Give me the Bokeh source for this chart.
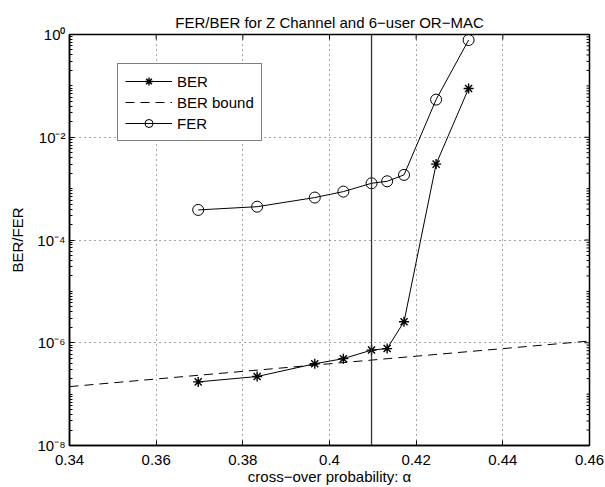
import math
from bokeh.plotting import figure
from bokeh.models import FixedTicker, Span, Legend, LegendItem
from bokeh.embed import file_html
from bokeh.resources import INLINE

# ---- data ----
alpha = [0.3697, 0.3833, 0.3966, 0.4032, 0.4097, 0.4133, 0.4172, 0.4246, 0.4321]
ber = [1.73e-7, 2.2e-7, 3.9e-7, 4.9e-7, 7.2e-7, 7.7e-7, 2.57e-6, 3.0e-3, 8.9e-2]
fer = [3.85e-4, 4.45e-4, 6.7e-4, 8.75e-4, 1.27e-3, 1.39e-3, 1.85e-3, 5.4e-2, 7.8e-1]
bound_alpha = [0.34, 0.40, 0.46]
ber_bound = [1.4e-7, 3.9e-7, 1.08e-6]
capacity_alpha = 0.4097

xticks = [0.34, 0.36, 0.38, 0.40, 0.42, 0.44, 0.46]
xtick_labels = ["0.34", "0.36", "0.38", "0.4", "0.42", "0.44", "0.46"]
yticks = [1e-8, 1e-6, 1e-4, 1e-2, 1.0]
ytick_labels = ["10\u207b\u2078", "10\u207b\u2076", "10\u207b\u2074", "10\u207b\u00b2", "10\u2070"]

title_text = "FER/BER for Z Channel and 6\u2212user OR\u2212MAC"
xlabel_text = "cross\u2212over probability: \u03b1"
ylabel_text = "BER/FER"

FONT = "Liberation Sans"
FS = "15px"

yminor = [k * 10.0 ** e for e in range(-8, 0) for k in range(1, 10) if not (k == 1 and e % 2 == 0)]

p = figure(frame_width=520, frame_height=411, x_range=(0.34, 0.46), y_range=(1e-8, 1.0),
           y_axis_type="log", output_backend="svg", toolbar_location=None,
           min_border_left=69, min_border_right=16, min_border_top=34, min_border_bottom=40,
           background_fill_color="white", border_fill_color="white")

p.outline_line_color = "black"
p.outline_line_width = 1.5

# title
p.title.text = title_text
p.title.align = "center"
p.title.text_font = FONT
p.title.text_font_size = FS
p.title.text_font_style = "normal"
p.title.text_color = "black"
p.title.standoff = 7

# grids
p.xgrid.ticker = FixedTicker(ticks=xticks)
p.ygrid.ticker = FixedTicker(ticks=yticks)
for g in (p.xgrid, p.ygrid):
    g.grid_line_color = "black"
    g.grid_line_alpha = 0.7
    g.grid_line_dash = "1 4"
    g.grid_line_width = 1

# bottom axis
xa = p.xaxis[0]
xa.ticker = FixedTicker(ticks=xticks)
xa.major_label_overrides = {t: l for t, l in zip(xticks, xtick_labels)}
xa.major_label_text_font = FONT
xa.major_label_text_font_size = FS
xa.major_label_text_color = "black"
xa.major_label_standoff = 9
xa.major_tick_in = 5
xa.major_tick_out = 0
xa.minor_tick_line_color = None
xa.axis_line_width = 1.5
xa.axis_label = xlabel_text
xa.axis_label_text_font = FONT
xa.axis_label_text_font_size = FS
xa.axis_label_text_font_style = "normal"
xa.axis_label_text_color = "black"
xa.axis_label_standoff = 0

# left axis
ya = p.yaxis[0]
ya.ticker = FixedTicker(ticks=yticks, minor_ticks=yminor)
ya.major_label_overrides = {t: l for t, l in zip(yticks, ytick_labels)}
ya.major_label_text_font = FONT
ya.major_label_text_font_size = FS
ya.major_label_text_color = "black"
ya.major_label_standoff = 4
ya.major_tick_in = 5
ya.major_tick_out = 0
ya.minor_tick_in = 3
ya.minor_tick_out = 0
ya.axis_line_width = 1.5
ya.axis_label = ylabel_text
ya.axis_label_text_font = FONT
ya.axis_label_text_font_size = FS
ya.axis_label_text_font_style = "normal"
ya.axis_label_text_color = "black"
ya.axis_label_standoff = 8

# mirrored tick marks on the right and top edges (box on)
p.ray(x=[xticks[-1]] * len(yticks), y=yticks, length=5, length_units="screen",
      angle=math.pi, line_color="black", line_width=1)
p.ray(x=[xticks[-1]] * len(yminor), y=yminor, length=3, length_units="screen",
      angle=math.pi, line_color="black", line_width=1)
p.ray(x=xticks, y=[yticks[-1]] * len(xticks), length=5, length_units="screen",
      angle=-math.pi / 2, line_color="black", line_width=1)

# capacity line
p.add_layout(Span(location=capacity_alpha, dimension="height", line_color="#333333",
                  line_width=1.3))

# series
ber_line = p.line(alpha, ber, line_color="black", line_width=1)
ber_mark = p.scatter(alpha, ber, marker="asterisk", size=10, line_color="black", line_width=1.4)
bnd_line = p.line(bound_alpha, ber_bound, line_color="black", line_width=1, line_dash="9 6")
fer_line = p.line(alpha, fer, line_color="black", line_width=1)
fer_mark = p.scatter(alpha, fer, marker="circle", size=11, line_color="black",
                     fill_color="white", fill_alpha=0.0, line_width=1)

legend = Legend(items=[
    LegendItem(label="BER", renderers=[ber_line, ber_mark]),
    LegendItem(label="BER bound", renderers=[bnd_line]),
    LegendItem(label="FER", renderers=[fer_line, fer_mark]),
], location=(48, 304))
legend.border_line_color = "black"
legend.border_line_width = 1.2
legend.background_fill_color = "white"
legend.background_fill_alpha = 1.0
legend.label_text_font = FONT
legend.label_text_font_size = FS
legend.label_text_color = "black"
legend.glyph_width = 47
legend.glyph_height = 20
legend.label_height = 20
legend.label_standoff = 5
legend.padding = 7
legend.spacing = 1
legend.margin = 0
p.add_layout(legend, "center")

open("out.html", "w").write(file_html(p, INLINE))
